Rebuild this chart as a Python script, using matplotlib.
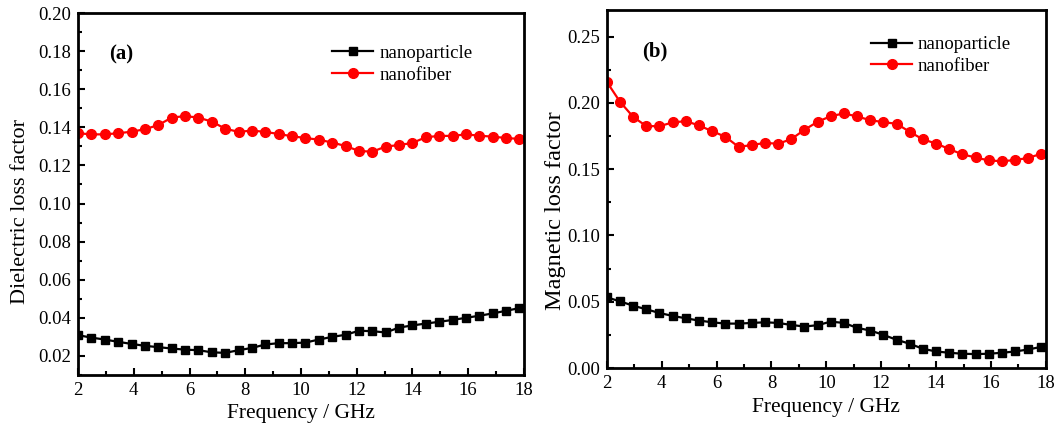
#!/usr/bin/env python3
# -*- coding: utf-8 -*-

import numpy as np
import matplotlib
matplotlib.use("Agg")
import matplotlib.pyplot as plt
from matplotlib.ticker import MultipleLocator

plt.rcParams['font.family'] = ['Liberation Serif', 'DejaVu Serif']

# frequency points (GHz), 34 samples
FREQ = np.round(np.linspace(2, 17.84, 34), 2)

# (a) dielectric loss factor
DIEL_PARTICLE = [0.0309, 0.0296, 0.0286, 0.0274, 0.0263, 0.0253, 0.0246, 0.0239,
                 0.0233, 0.0230, 0.0219, 0.0216, 0.0230, 0.0242, 0.0260, 0.0267,
                 0.0267, 0.0270, 0.0286, 0.0300, 0.0311, 0.0332, 0.0330, 0.0323,
                 0.0349, 0.0360, 0.0370, 0.0379, 0.0389, 0.0400, 0.0411, 0.0423,
                 0.0437, 0.0451]
DIEL_FIBER = [0.1369, 0.1363, 0.1363, 0.1369, 0.1377, 0.1390, 0.1412, 0.1451,
              0.1459, 0.1451, 0.1430, 0.1393, 0.1376, 0.1383, 0.1376, 0.1365,
              0.1353, 0.1344, 0.1335, 0.1320, 0.1302, 0.1276, 0.1272, 0.1299,
              0.1307, 0.1318, 0.1348, 0.1355, 0.1355, 0.1363, 0.1356, 0.1351,
              0.1344, 0.1339]

# (b) magnetic loss factor
MAG_PARTICLE = [0.0533, 0.0503, 0.0470, 0.0443, 0.0415, 0.0393, 0.0375, 0.0358,
                0.0345, 0.0335, 0.0335, 0.0340, 0.0345, 0.0340, 0.0325, 0.0313,
                0.0323, 0.0350, 0.0340, 0.0303, 0.0283, 0.0250, 0.0213, 0.0183,
                0.0145, 0.0125, 0.0115, 0.0108, 0.0105, 0.0108, 0.0115, 0.0125,
                0.0140, 0.0160]
MAG_FIBER = [0.2158, 0.2008, 0.1894, 0.1824, 0.1824, 0.1852, 0.1862, 0.1829,
             0.1786, 0.1744, 0.1668, 0.1681, 0.1698, 0.1691, 0.1726, 0.1796,
             0.1857, 0.1899, 0.1920, 0.1897, 0.1869, 0.1854, 0.1842, 0.1781,
             0.1724, 0.1693, 0.1651, 0.1611, 0.1588, 0.1565, 0.1560, 0.1568,
             0.1585, 0.1616]

LABELS = ["nanoparticle", "nanofiber"]


def draw_panel(ax, particle, fiber, ylabel, ylabel_size, ylabel_pos, tag,
               tag_pos, leg_pos, ylim, ymajor, yminor):
    ax.plot(FREQ, particle, color="black", marker="s", markersize=6,
            linewidth=1.6, label=LABELS[0])
    ax.plot(FREQ, fiber, color="red", marker="o", markersize=7,
            linewidth=1.6, label=LABELS[1])
    ax.set_xlim(2, 18)
    ax.set_ylim(*ylim)
    ax.xaxis.set_major_locator(MultipleLocator(2))
    ax.xaxis.set_minor_locator(MultipleLocator(1))
    ax.yaxis.set_major_locator(MultipleLocator(ymajor))
    ax.yaxis.set_minor_locator(MultipleLocator(yminor))
    ax.yaxis.set_major_formatter(plt.FormatStrFormatter("%.2f"))
    ax.tick_params(which="both", direction="in", labelsize=13.5, width=1.5)
    ax.tick_params(which="major", length=5, pad=5)
    ax.tick_params(which="minor", length=3)
    for s in ax.spines.values():
        s.set_linewidth(2)
    ax.set_xlabel("Frequency / GHz", fontsize=15.5)
    ax.set_ylabel(ylabel, fontsize=ylabel_size)
    ax.yaxis.set_label_coords(*ylabel_pos)
    ax.text(tag_pos[0], tag_pos[1], tag, transform=ax.transAxes, fontsize=15,
            fontweight="bold", va="center")
    ax.legend(loc="upper left", bbox_to_anchor=leg_pos, frameon=False,
              fontsize=13.5, handlelength=2.2, handletextpad=0.3,
              labelspacing=0.25, borderpad=0, borderaxespad=0)


fig = plt.figure(figsize=(10.59, 4.34), dpi=100)
ax1 = fig.add_axes([0.0737, 0.136, 0.421, 0.834])
ax2 = fig.add_axes([0.573, 0.152, 0.4146, 0.825])

draw_panel(ax1, DIEL_PARTICLE, DIEL_FIBER, "Dielectric loss factor", 16,
           (-0.108, 0.453), "(a)", (0.07, 0.885), (0.570, 0.912),
           (0.01, 0.20), 0.02, 0.01)
draw_panel(ax2, MAG_PARTICLE, MAG_FIBER, "Magnetic loss factor", 17.5,
           (-0.092, 0.4385), "(b)", (0.08, 0.885), (0.602, 0.927),
           (0.0, 0.27), 0.05, 0.025)

fig.savefig("out.png", dpi=100)
